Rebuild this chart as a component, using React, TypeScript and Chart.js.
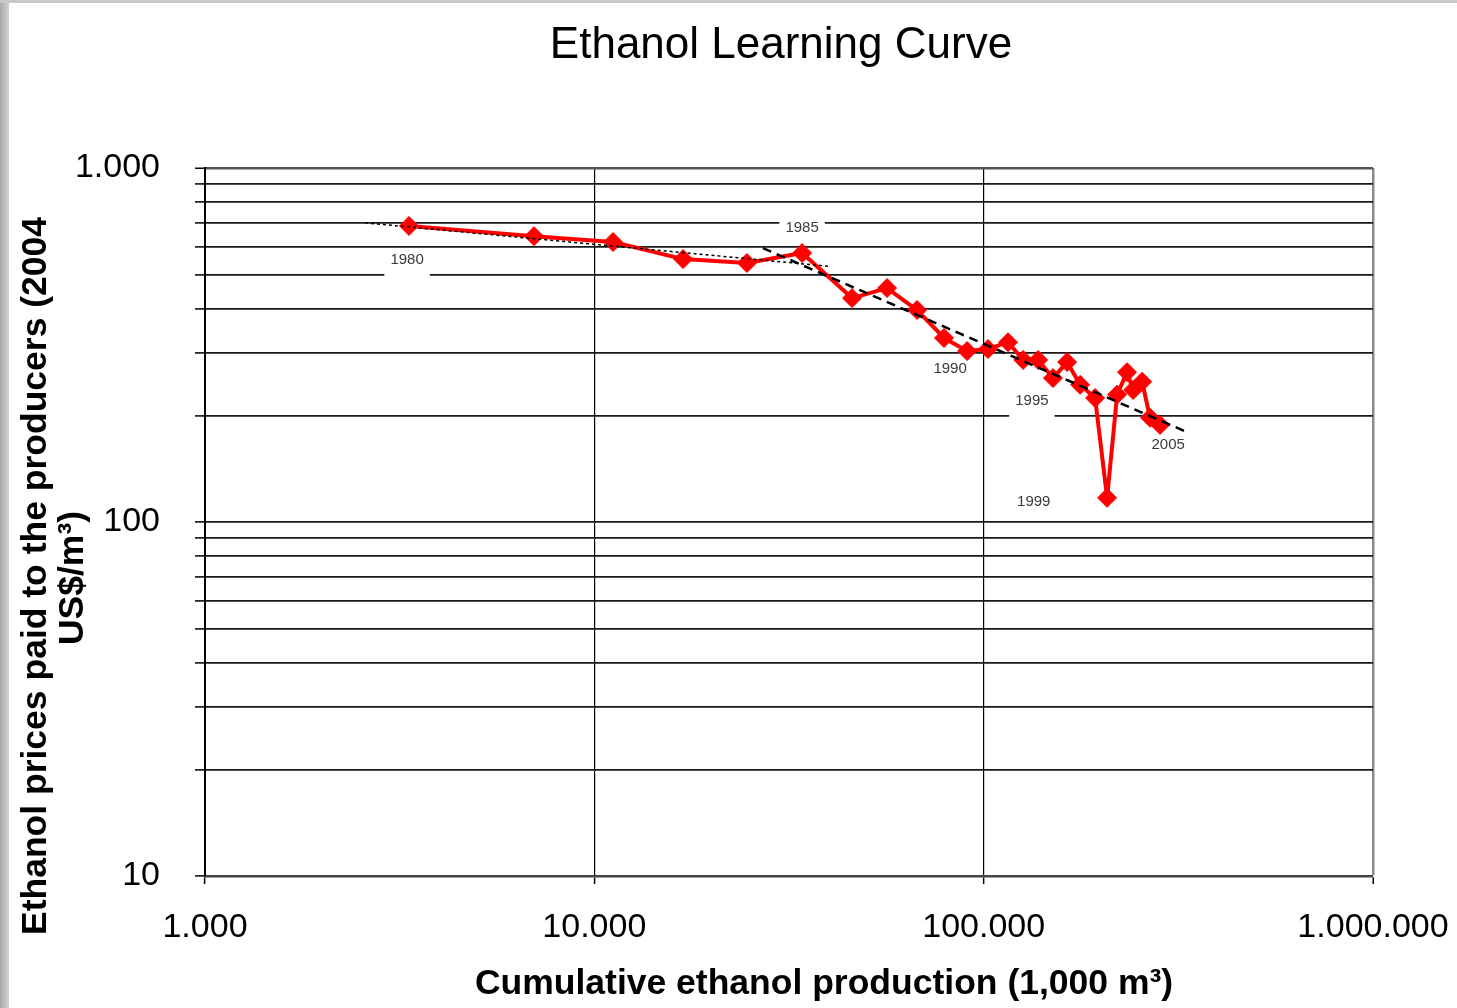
import React, { useEffect, useRef } from 'react';
import { Chart, registerables } from 'chart.js';

Chart.register(...registerables);

// ---------- data ----------
const years = [1980, 1981, 1982, 1983, 1984, 1985, 1986, 1987, 1988, 1989, 1990, 1991, 1992, 1993, 1994, 1995, 1996, 1997, 1998, 1999, 2000, 2001, 2002, 2003, 2004, 2005];
const cumulativeProduction = [3342, 7000, 11170, 16900, 24660, 34170, 45920, 56480, 67440, 79090, 90650, 102600, 115500, 126300, 138000, 150700, 163800, 176900, 193300, 207500, 220200, 233500, 242000, 255300, 267500, 283800];
const ethanolPrice = [686, 642, 618, 553, 539, 575, 429, 458, 397, 331, 304, 308, 322, 287, 287, 255, 283, 244, 224, 117, 229, 265, 236, 249, 197, 188];

const trendEarlyX = [2576, 39800];
const trendEarlyY = [700, 528];
const trendLateX = [27100, 332700];
const trendLateY = [594, 179.5];

const yearLabelText = ['1980', '1985', '1990', '1995', '1999', '2005'];
const yearLabelX = [3304, 34170, 82000, 133000, 134500, 297800];
const yearLabelY = [550, 677, 270, 220, 113.9, 165];

const xTickValues = [1000, 10000, 100000, 1000000];
const yTickValues = [10, 20, 30, 40, 50, 60, 70, 80, 90, 100, 200, 300, 400, 500, 600, 700, 800, 900, 1000];
const yLabeledTicks = [10, 100, 1000];

const titleText = 'Ethanol Learning Curve';
const xTitleText = 'Cumulative ethanol production (1,000 m³)';
const yTitleLine1 = 'Ethanol prices paid to the producers (2004';
const yTitleLine2 = 'US$/m³)';

const FONT = '"Liberation Sans", Arial, Helvetica, sans-serif';

const fmtDots = (v: number) => String(Math.round(v)).replace(/\B(?=(\d{3})+(?!\d))/g, '.');

const pagePlugin = {
  id: 'pageDecor',
  beforeDraw(chart: any) {
    const ctx = chart.ctx;
    ctx.save();
    ctx.fillStyle = '#ffffff';
    ctx.fillRect(0, 0, chart.width, chart.height);
    const g = ctx.createLinearGradient(0, 0, 9, 0);
    g.addColorStop(0, '#a9a9a9');
    g.addColorStop(1, '#d4d4d4');
    ctx.fillStyle = g;
    ctx.fillRect(0, 0, 9, chart.height);
    ctx.fillStyle = '#c8c8c8';
    ctx.fillRect(0, 0, chart.width, 3);
    ctx.restore();
  },
  beforeDatasetsDraw(chart: any) {
    const ctx = chart.ctx;
    const xs = chart.scales.x;
    const ys = chart.scales.y;
    ctx.save();
    ctx.font = `15px ${FONT}`;
    ctx.textAlign = 'center';
    ctx.textBaseline = 'middle';
    yearLabelText.forEach((t, i) => {
      const px = xs.getPixelForValue(yearLabelX[i]);
      const py = ys.getPixelForValue(yearLabelY[i]);
      const w = ctx.measureText(t).width + 12;
      ctx.fillStyle = '#ffffff';
      ctx.fillRect(px - w / 2, py - 10, w, 27);
      ctx.fillStyle = '#3a3a3a';
      ctx.fillText(t, px, py);
    });
    ctx.restore();
  },
  afterDraw(chart: any) {
    const ctx = chart.ctx;
    ctx.save();
    ctx.fillStyle = '#000000';
    ctx.textAlign = 'center';
    ctx.textBaseline = 'middle';
    ctx.font = `44px ${FONT}`;
    ctx.fillText(titleText, 781, 46);
    ctx.font = `bold 35.5px ${FONT}`;
    ctx.fillText(xTitleText, 824, 984);
    ctx.save();
    ctx.translate(36, 576);
    ctx.rotate(-Math.PI / 2);
    ctx.fillText(yTitleLine1, 0, 0);
    ctx.restore();
    ctx.save();
    ctx.translate(73, 578);
    ctx.rotate(-Math.PI / 2);
    ctx.fillText(yTitleLine2, 0, 0);
    ctx.restore();
    ctx.restore();
  },
};

export default function App() {
  const ref = useRef<HTMLCanvasElement | null>(null);

  useEffect(() => {
    if (!ref.current) return;
    Chart.defaults.font.family = FONT;
    const chart = new Chart(ref.current, {
      type: 'line',
      data: {
        datasets: [
          {
            label: 'Trend 1980-1985',
            data: trendEarlyX.map((x, i) => ({ x, y: trendEarlyY[i] })),
            borderColor: '#000000',
            borderWidth: 1.5,
            borderDash: [3, 3],
            pointRadius: 0,
            fill: false,
            order: 0,
          },
          {
            label: 'Trend 1985-2005',
            data: trendLateX.map((x, i) => ({ x, y: trendLateY[i] })),
            borderColor: '#000000',
            borderWidth: 2.5,
            borderDash: [9, 6],
            pointRadius: 0,
            fill: false,
            order: 0,
          },
          {
            label: 'Ethanol price',
            data: cumulativeProduction.map((x, i) => ({ x, y: ethanolPrice[i], year: years[i] })),
            borderColor: '#ff0000',
            backgroundColor: '#ff0000',
            borderWidth: 4,
            borderJoinStyle: 'round',
            borderCapStyle: 'round',
            pointStyle: 'rectRot',
            pointRadius: 9.5,
            pointBorderWidth: 1,
            pointBackgroundColor: '#ff0000',
            pointBorderColor: '#ff0000',
            tension: 0,
            fill: false,
            order: 1,
          },
        ],
      },
      options: {
        responsive: false,
        animation: false,
        devicePixelRatio: 1,
        layout: { padding: { left: 0, top: 168, right: 84, bottom: 0 } },
        plugins: {
          legend: { display: false },
          tooltip: { enabled: false },
          title: { display: false },
        },
        scales: {
          x: {
            type: 'logarithmic',
            min: 1000,
            max: 1000000,
            afterBuildTicks: (scale: any) => {
              scale.ticks = xTickValues.map((v) => ({ value: v }));
            },
            afterFit: (scale: any) => {
              scale.height = 132;
              scale.paddingLeft = 0;
              scale.paddingRight = 0;
            },
            ticks: {
              autoSkip: false,
              maxRotation: 0,
              color: '#000000',
              font: { size: 34, family: FONT },
              padding: 23,
              callback: (v: any) => fmtDots(Number(v)),
            },
            grid: {
              color: (c: any) => (c.tick && c.tick.value === 1000000 ? '#8a8a8a' : '#000000'),
              lineWidth: (c: any) => (c.tick && c.tick.value === 1000000 ? 2.5 : 1.2),
              tickLength: 8,
              tickColor: '#000000',
              tickWidth: 1.5,
            },
            border: { display: true, color: '#444444', width: 2.5 },
          },
          y: {
            type: 'logarithmic',
            min: 10,
            max: 1000,
            afterBuildTicks: (scale: any) => {
              scale.ticks = yTickValues.map((v) => ({ value: v }));
            },
            afterFit: (scale: any) => {
              scale.width = 205;
              scale.paddingTop = 0;
              scale.paddingBottom = 0;
            },
            ticks: {
              autoSkip: false,
              color: '#000000',
              font: { size: 34, family: FONT },
              padding: 35,
              callback: (v: any) => (yLabeledTicks.includes(Number(v)) ? fmtDots(Number(v)) : ''),
            },
            grid: {
              color: (c: any) => (c.tick && c.tick.value === 1000 ? '#555555' : '#1a1a1a'),
              lineWidth: (c: any) => (c.tick && c.tick.value === 1000 ? 2.5 : 1.8),
              tickLength: 10,
              tickColor: '#000000',
              tickWidth: 1.5,
            },
            border: { display: true, color: '#000000', width: 2 },
          },
        },
      },
      plugins: [pagePlugin],
    } as any);
    return () => chart.destroy();
  }, []);

  return (
    <div style={{ position: 'fixed', left: 0, top: 0, width: 1457, height: 1008, background: '#ffffff' }}>
      <canvas ref={ref} width={1457} height={1008} style={{ width: 1457, height: 1008, display: 'block' }} />
    </div>
  );
}
